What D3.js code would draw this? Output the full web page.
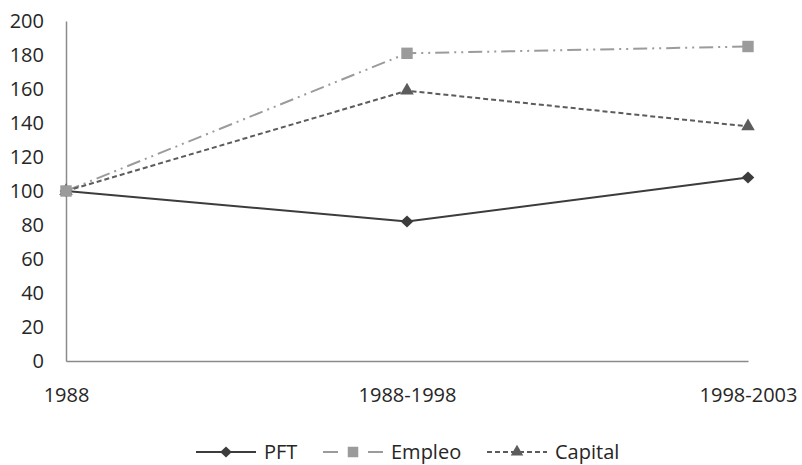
<!DOCTYPE html>
<html><head><meta charset="utf-8">
<script src="https://cdn.jsdelivr.net/npm/d3@7"></script>
<style>body{margin:0;background:#fff}svg{display:block}text{font-family:"Open Sans",sans-serif;fill:#262626}</style>
</head><body>
<svg id="c" width="802" height="465"></svg>
<script>
const categories = ["1988", "1988-1998", "1998-2003"];
const pft = [100, 82, 108];
const empleo = [100, 181, 185];
const capital = [100, 159, 138];
const yTicks = [0, 20, 40, 60, 80, 100, 120, 140, 160, 180, 200];

const svg = d3.select("#c");
const x = d3.scalePoint().domain(categories).range([66, 748]);
const y = d3.scaleLinear().domain([0, 200]).range([361, 21]);

const axisColor = "#8a8a8a";
const fs = "20px";
// y axis
const ya = svg.append("g").attr("transform", "translate(66,0)")
  .call(d3.axisLeft(y).tickValues(yTicks).tickSize(0).tickPadding(22));
ya.select(".domain").attr("stroke", axisColor).attr("stroke-width", 1.5);
ya.selectAll("text").style("font-size", fs).attr("fill", "#262626");
// x axis
const xa = svg.append("g").attr("transform", "translate(0,361)")
  .call(d3.axisBottom(x).tickSize(0).tickPadding(27));
xa.select(".domain").attr("stroke", axisColor).attr("stroke-width", 1.5);
xa.selectAll("text").style("font-size", fs).attr("fill", "#262626");

const diamond = {draw(ctx, size) { const r = Math.sqrt(size / 2); ctx.moveTo(0, -r); ctx.lineTo(r * 1.05, 0); ctx.lineTo(0, r); ctx.lineTo(-r * 1.05, 0); ctx.closePath(); }};
const series = [
  {name: "PFT", values: pft, color: "#3c3c3c", dash: null, legendDash: null, marker: diamond, size: 72},
  {name: "Empleo", values: empleo, color: "#9b9b9b", dash: "14,5,2,5,2,5", legendDash: "15,30,15", marker: d3.symbolSquare, size: 130},
  {name: "Capital", values: capital, color: "#5c5c5c", dash: "5,3", legendDash: "5,3", marker: d3.symbolTriangle, size: 80}
];
const line = d3.line().x((d, i) => x(categories[i])).y(d => y(d));

[series[1], series[2], series[0]].forEach(s => {
  svg.append("path").attr("d", line(s.values)).attr("fill", "none")
    .attr("stroke", s.color).attr("stroke-width", 2)
    .attr("stroke-dasharray", s.dash);
});
[series[0], series[2], series[1]].forEach(s => {
  svg.append("g").selectAll("path").data(s.values).join("path")
    .attr("transform", (d, i) => `translate(${x(categories[i])},${y(d)})`)
    .attr("d", d3.symbol().type(s.marker).size(s.size))
    .attr("fill", s.color);
});

// legend
const legendX = [196, 323, 487];
const legendLen = 60;
const ly = 452;
series.forEach((s, i) => {
  const g = svg.append("g").attr("transform", `translate(${legendX[i]},${ly})`);
  g.append("line").attr("x1", 0).attr("x2", legendLen).attr("y1", 0).attr("y2", 0)
    .attr("stroke", s.color).attr("stroke-width", 2)
    .attr("stroke-dasharray", s.legendDash);
  g.append("path").attr("transform", `translate(${legendLen / 2},0)`)
    .attr("d", d3.symbol().type(s.marker).size(s.size * 0.85))
    .attr("fill", s.color);
  g.append("text").attr("x", legendLen + 8).attr("y", 6.5)
    .style("font-size", fs).text(s.name);
});
</script>
</body></html>
